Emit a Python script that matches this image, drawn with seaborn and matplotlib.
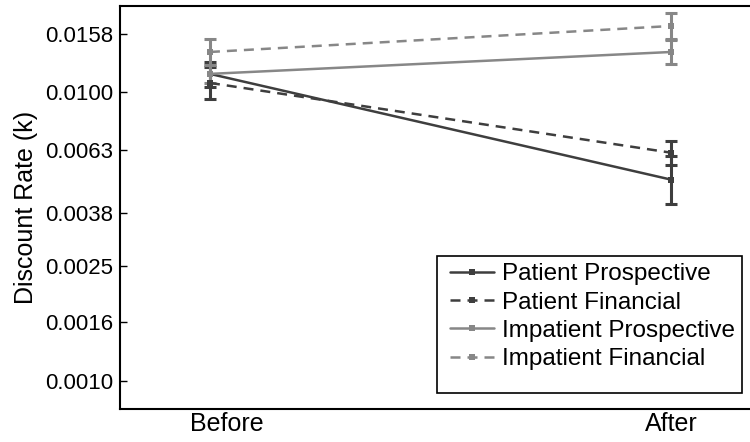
import pandas as pd
import seaborn as sns
import matplotlib.pyplot as plt
from matplotlib.patches import Rectangle
import numpy as np

# values (log scale axis)
conditions = ['Before', 'After']
series = ['Patient Prospective', 'Patient Financial',
          'Impatient Prospective', 'Impatient Financial']
means = {
    'Patient Prospective': [0.01154, 0.00497],
    'Patient Financial': [0.01074, 0.00616],
    'Impatient Prospective': [0.01154, 0.01374],
    'Impatient Financial': [0.01374, 0.01690],
}
lower = {
    'Patient Prospective': [0.01040, 0.00410],
    'Patient Financial': [0.00946, 0.00560],
    'Impatient Prospective': [0.01074, 0.01250],
    'Impatient Financial': [0.01240, 0.01524],
}
upper = {
    'Patient Prospective': [0.01269, 0.00601],
    'Patient Financial': [0.01215, 0.00677],
    'Impatient Prospective': [0.01240, 0.01512],
    'Impatient Financial': [0.01524, 0.01875],
}
y_ticks = [0.0010, 0.0016, 0.0025, 0.0038, 0.0063, 0.0100, 0.0158]

dark = '#3e3e3e'
light = '#878787'
palette = {'Patient Prospective': dark, 'Patient Financial': dark,
           'Impatient Prospective': light, 'Impatient Financial': light}
dashes = {'Patient Prospective': '', 'Patient Financial': (4, 2.8),
          'Impatient Prospective': '', 'Impatient Financial': (4, 2.8)}

rows = []
for s in series:
    for i, c in enumerate(conditions):
        rows.append({'series': s, 'x': i, 'k': means[s][i]})
df = pd.DataFrame(rows)

sns.set_style('white')
plt.rcParams['font.family'] = ['Liberation Sans', 'DejaVu Sans']
plt.rcParams['text.color'] = 'black'
plt.rcParams['xtick.color'] = 'black'
plt.rcParams['ytick.color'] = 'black'
plt.rcParams['axes.labelcolor'] = 'black'

fig = plt.figure(figsize=(7.5, 4.42), dpi=100)
ax = fig.add_axes([0.16, 0.0747, 0.84, 0.9117])

for s in series:
    m = np.array(means[s])
    err = np.vstack([m - np.array(lower[s]), np.array(upper[s]) - m])
    ax.errorbar([0, 1], m, yerr=err, fmt='none', ecolor=palette[s],
                elinewidth=2.2, capsize=4.5, capthick=2.2, zorder=2)

sns.lineplot(data=df, x='x', y='k', hue='series', style='series',
             hue_order=series, style_order=series, palette=palette,
             dashes=dashes, markers={s: 's' for s in series},
             markersize=5, linewidth=1.8, markeredgewidth=0, ax=ax, zorder=3)

ax.set_yscale('log')
ax.set_ylim(10 ** -3.097, 10 ** -1.703)
ax.set_xlim(-0.195, 1.171)
ax.yaxis.set_major_locator(plt.FixedLocator(y_ticks))
ax.yaxis.set_minor_locator(plt.NullLocator())
ax.set_yticklabels([f'{t:.4f}' for t in y_ticks])
# the "Before" label sits a little right of its data column in the original
ax.set_xticks([0.037, 1])
ax.set_xticklabels(conditions)
ax.tick_params(axis='y', direction='in', length=5, width=1, left=True,
               labelsize=16, pad=5)
ax.tick_params(axis='x', length=0, labelsize=18, pad=2.5)
ax.set_xlabel('')
ax.set_ylabel('Discount Rate (k)', fontsize=18, labelpad=5)

for side in ['left', 'bottom', 'top']:
    ax.spines[side].set_visible(True)
    ax.spines[side].set_color('black')
    ax.spines[side].set_linewidth(1.5)
ax.spines['right'].set_visible(False)

# legend entries without their own frame; the box in the original has extra
# room below the last entry, so the frame is drawn separately
leg = ax.legend(loc='upper right', bbox_to_anchor=(0.987, 0.3797),
                borderaxespad=0, fontsize=17.5, handlelength=1.8,
                handletextpad=0.3, labelspacing=0.26, borderpad=0.3,
                frameon=False)
ax.add_patch(Rectangle((0.503, 0.0397), 0.484, 0.34, transform=ax.transAxes,
                       facecolor='white', edgecolor='black', linewidth=1.2,
                       zorder=4))
leg.set_zorder(5)

fig.savefig('out.png', dpi=100)
